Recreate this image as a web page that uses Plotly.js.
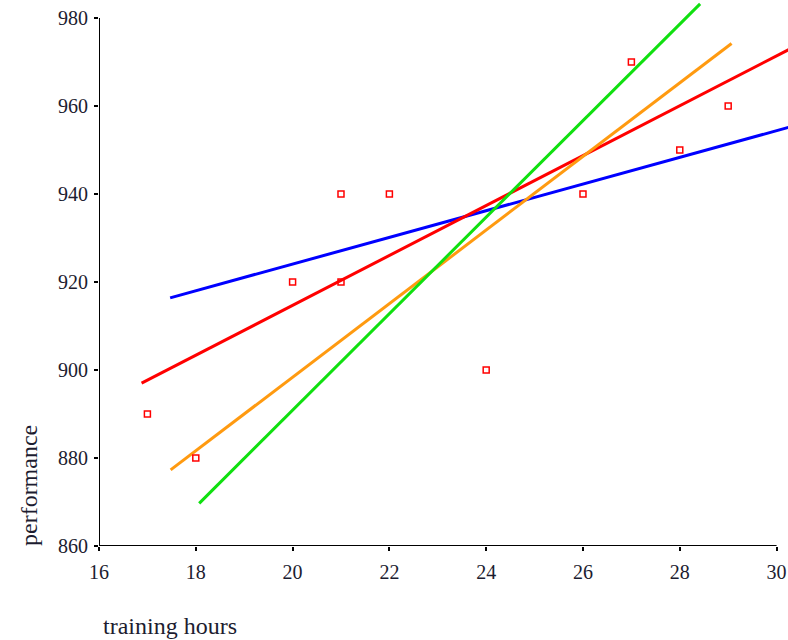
<!DOCTYPE html>
<html>
<head>
<meta charset="utf-8">
<script src="https://cdn.plot.ly/plotly-3.0.1.min.js"></script>
<style>html,body{margin:0;padding:0;background:#fff;}#chart{width:788px;height:640px;}</style>
</head>
<body>
<div id="chart"></div>
<script>
// Observed data points
const trainingHours = [17, 18, 20, 21, 21, 22, 24, 26, 27, 28, 29];
const performance = [890, 880, 920, 920, 940, 940, 900, 940, 970, 950, 960];

// Fitted lines (two end points each)
const blueX = [17.47, 30.3];
const blueY = [916.4, 955.3];
const redX = [16.88, 30.3];
const redY = [897.0, 973.1];
const orangeX = [17.48, 29.07];
const orangeY = [877.3, 974.2];
const greenX = [18.07, 28.42];
const greenY = [869.7, 983.2];

// Tick labels
const xTicks = [16, 18, 20, 22, 24, 26, 28, 30];
const yTicks = [860, 880, 900, 920, 940, 960, 980];

const tickFont = {family: 'Liberation Serif, Times New Roman, serif', size: 20, color: '#1c1c30'};
const titleFont = {family: 'Liberation Serif, Times New Roman, serif', size: 24, color: '#1c1c30'};

function lineTrace(x, y, color) {
  return {x: x, y: y, type: 'scatter', mode: 'lines', line: {color: color, width: 3}, hoverinfo: 'skip'};
}

const traces = [
  lineTrace(blueX, blueY, '#0000ff'),
  lineTrace(redX, redY, '#ff0000'),
  lineTrace(orangeX, orangeY, '#ff9a10'),
  lineTrace(greenX, greenY, '#10e010'),
  {
    x: trainingHours, y: performance, type: 'scatter', mode: 'markers',
    marker: {symbol: 'square-open', size: 6, color: '#ff0000', line: {color: '#ff0000', width: 1.5}}
  }
];

const xMin = xTicks[0], xMax = xTicks[xTicks.length - 1];
const yMin = yTicks[0], yMax = yTicks[yTicks.length - 1];

const layout = {
  width: 788, height: 640,
  margin: {l: 99, r: 0, t: 0, b: 94},
  paper_bgcolor: '#ffffff', plot_bgcolor: '#ffffff',
  showlegend: false,
  xaxis: {
    range: [16, 30.236], showgrid: false, zeroline: false, showline: false,
    tickmode: 'array', tickvals: xTicks, ticktext: xTicks.map(String),
    ticks: 'outside', ticklen: 4, tickwidth: 2, tickcolor: '#000', tickfont: tickFont,
    ticklabelstandoff: 4
  },
  yaxis: {
    range: [860, 984.09], showgrid: false, zeroline: false, showline: false,
    tickmode: 'array', tickvals: yTicks, ticktext: yTicks.map(String),
    ticks: 'outside', ticklen: 4, tickwidth: 2, tickcolor: '#000', tickfont: tickFont,
    ticklabelstandoff: 2
  },
  shapes: [
    {type: 'line', xref: 'x', yref: 'y', x0: xMin, x1: xMax, y0: yMin, y1: yMin, line: {color: '#000', width: 2}},
    {type: 'line', xref: 'x', yref: 'y', x0: xMin, x1: xMin, y0: yMin, y1: yMax, line: {color: '#000', width: 2}}
  ],
  annotations: [
    {text: 'training hours', xref: 'paper', yref: 'paper', x: 0.103, y: -0.1465, showarrow: false,
     xanchor: 'center', yanchor: 'middle', font: titleFont},
    {text: 'performance', xref: 'paper', yref: 'paper', x: -0.1016, y: 0.1117, showarrow: false,
     textangle: -90, xanchor: 'center', yanchor: 'middle', font: titleFont}
  ]
};

Plotly.newPlot('chart', traces, layout, {displayModeBar: false, staticPlot: true});
</script>
</body>
</html>
